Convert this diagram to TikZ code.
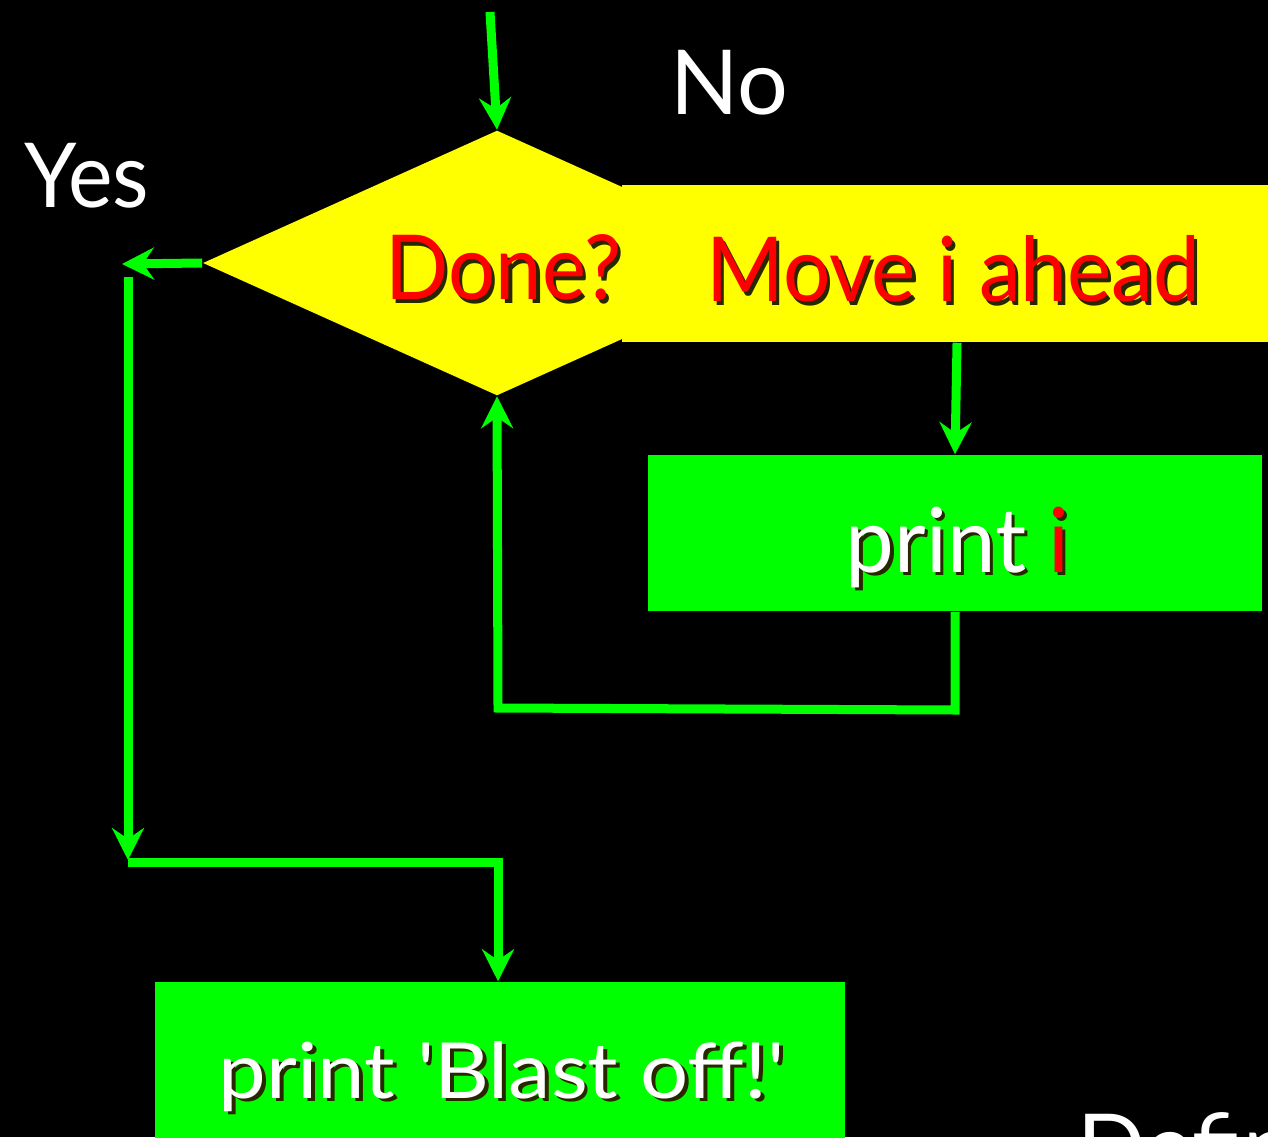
\documentclass[tikz,border=0pt]{standalone}
\usepackage{fontspec}
\setmainfont{Lato}
\usetikzlibrary{arrows.meta,shapes.geometric}
\definecolor{gr}{RGB}{0,255,0}
\definecolor{ye}{RGB}{255,255,0}
\definecolor{rd}{RGB}{255,0,0}
\definecolor{shadowc}{RGB}{40,40,0}
\newcommand\shd[2]{\makebox[0pt][l]{\hspace{0.035cm}\raisebox{-0.035cm}{\color{shadowc}#2}}\textcolor{#1}{#2}}
\newcommand\hsc[2]{\scalebox{#1}[1]{#2}}
\begin{document}
\begin{tikzpicture}[x=0.01cm,y=-0.01cm,
  ln/.style={draw=gr,line width=0.09cm,line join=miter},
  arr/.style={ln,-{Stealth[length=0.32cm,width=0.32cm,inset=0.11cm]}},
  txt/.style={inner sep=0pt,anchor=base west},
  bigtxt/.style={txt,font=\fontsize{25.5pt}{30pt}\selectfont}]
\useasboundingbox (0,0) rectangle (1268,1137);
\clip (0,0) rectangle (1268,1137);
\fill[black] (0,0) rectangle (1268,1137);
% shapes
\node[diamond,fill=ye,inner sep=0pt,minimum width=5.88cm,minimum height=2.65cm] (dec) at (497,263) {};
\node[rectangle,fill=ye,inner sep=0pt,minimum width=6.46cm,minimum height=1.57cm] (move) at (945,263.5) {};
\node[rectangle,fill=gr,inner sep=0pt,minimum width=6.14cm,minimum height=1.56cm] (printi) at (955,533) {};
\node[rectangle,fill=gr,inner sep=0pt,minimum width=6.90cm,minimum height=1.60cm] (blast) at (500,1062) {};
% texts
\node[bigtxt] (done) at (385,300) {\hsc{0.93}{\shd{rd}{Done?}}};
\node[bigtxt] (movet) at (706,302) {\hsc{0.935}{\shd{rd}{Move i ahead}}};
\node[bigtxt,text=white] (yes) at (24,208) {\hsc{0.94}{Yes}};
\node[bigtxt,text=white] (no) at (670,115) {No};
\node[bigtxt] (printt) at (845,572) {\hsc{0.97}{\shd{white}{print\ }\shd{rd}{i}}};
\node[txt,font=\fontsize{22pt}{26pt}\selectfont] (blastt) at (218,1098) {\hsc{1.1}{\shd{white}{print \textquotesingle Blast off!\textquotesingle}}};
\node[bigtxt,text=white] (defn) at (1077,1178) {Definite Loops};
% connectors
\coordinate (top) at (490,12);
\coordinate (yesend) at (122,264);
\coordinate (v1) at (128,277);
\coordinate (v2) at (128,860);
\coordinate (h1) at (128,862);
\coordinate (h2) at (498,862);
\coordinate (b1) at (955,710);
\coordinate (b2) at (498,708);
\draw[arr] (top) -- (dec.north);
\draw[arr] (dec.west) -- (yesend);
\draw[arr] (v1) -- (v2);
\draw[arr] (h1) -- (h2) -- (h2 |- blast.north);
\draw[arr] ([xshift=0.12cm]move.south) -- (printi.north);
\draw[arr] (printi.south) -- (b1) -- (b2) -- (dec.south);
\end{tikzpicture}
\end{document}
